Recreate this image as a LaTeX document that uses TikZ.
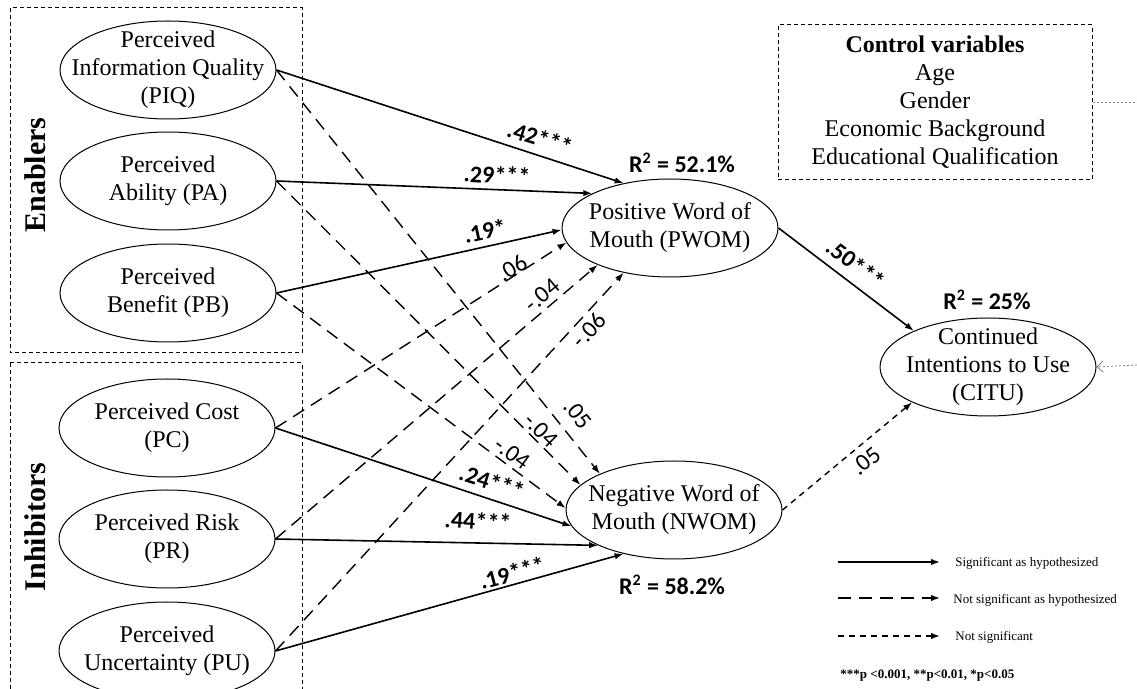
\documentclass[tikz,border=0pt]{standalone}
\usepackage{fontspec}
\setmainfont{Liberation Serif}
\newfontfamily\calibri{Carlito}
\usetikzlibrary{shapes.geometric, arrows.meta}

\begin{document}
\begin{tikzpicture}[x=0.5pt, y=-0.5pt,
    construct/.style={ellipse, draw, line width=0.5pt, minimum width=108pt, minimum height=49pt, inner sep=0pt},
    ctext/.style={align=center, inner sep=0pt, font=\fontsize{12}{14}\selectfont},
    sig/.style={line width=0.8pt, -{Latex[length=4.5pt, width=3.2pt]}},
    nsh/.style={line width=0.7pt, dash pattern=on 6.5pt off 4pt, -{Latex[length=4.5pt, width=3.2pt]}},
    ns/.style={line width=0.7pt, dash pattern=on 3pt off 2.5pt, -{Latex[length=4.5pt, width=3.2pt]}},
    coef/.style={inner sep=0pt, font=\calibri\bfseries\fontsize{12}{14}\selectfont},
    coefns/.style={inner sep=0pt, font=\calibri\fontsize{12}{14}\selectfont},
    groupbox/.style={line width=0.5pt, dash pattern=on 2pt off 1.5pt},
    grouplabel/.style={rotate=90, inner sep=0pt, font=\bfseries\fontsize{15}{18}\selectfont},
    keytext/.style={anchor=west, inner sep=0pt, font=\fontsize{6.5}{8}\selectfont},
    outside/.style={gray, line width=0.4pt, dash pattern=on 1pt off 1pt}]

  \path[use as bounding box] (0,0) rectangle (1137,689);
  \clip (0,0) rectangle (1137,689);

  % groups
  \draw[groupbox] (10,8) rectangle (302,353);
  \draw[groupbox] (10,363) rectangle (302,745);
  \node[grouplabel] (enab) at (35,175) {Enablers};
  \node[grouplabel] (inhib) at (35,527) {Inhibitors};

  % constructs
  \node[construct, label={[ctext]center:{Perceived\\Information Quality\\(PIQ)}}] (piq) at (168,70) {};
  \node[construct, label={[ctext]center:{Perceived\\Ability (PA)}}] (pa) at (168,181) {};
  \node[construct, label={[ctext]center:{Perceived\\Benefit (PB)}}] (pb) at (168,293) {};
  \node[construct, label={[ctext]center:{Perceived Cost\\(PC)}}] (pc) at (167,428) {};
  \node[construct, label={[ctext]center:{Perceived Risk\\(PR)}}] (pr) at (167,539) {};
  \node[construct, label={[ctext]center:{Perceived\\Uncertainty (PU)}}] (pu) at (167,651) {};
  \node[construct, label={[ctext]center:{Positive Word of\\Mouth (PWOM)}}] (pwom) at (670,228) {};
  \node[construct, label={[ctext]center:{Negative Word of\\Mouth (NWOM)}}] (nwom) at (674,510) {};
  \node[construct, label={[ctext]center:{Continued\\Intentions to Use\\(CITU)}}] (citu) at (988,367) {};

  \node[draw, groupbox, ctext, minimum width=157pt, minimum height=77.5pt] (ctrl) at (935,102.5)
    {\textbf{Control variables}\\Age\\Gender\\Economic Background\\Educational Qualification};

  % paths
  \draw[sig] (piq.east) -- (pwom.136);
  \draw[sig] (pa.east) -- (pwom.156);
  \draw[sig] (pb.east) -- (pwom.181);
  \draw[nsh] (pc.east) -- (pwom.188);
  \draw[nsh] (pr.east) -- (pwom.207);
  \draw[nsh] (pu.east) -- (pwom.224);
  \draw[nsh] (piq.east) -- (nwom.154);
  \draw[nsh] (pa.east) -- (nwom.165);
  \draw[nsh] (pb.east) -- (nwom.179);
  \draw[sig] (pc.east) -- (nwom.189);
  \draw[sig] (pr.east) -- (nwom.205);
  \draw[sig] (pu.east) -- (nwom.221);
  \draw[sig] (pwom.east) -- (citu.154);
  \draw[ns] (nwom.east) -- (citu.205);

  % controls from outside
  \coordinate (ctrlout) at (1137,102.5);
  \coordinate (cituin) at (1137,365);
  \draw[outside] (ctrl.east) -- (ctrlout);
  \draw[outside, -{Straight Barb[length=3pt, width=5.5pt]}] (cituin) -- (citu.east);

  % coefficients
  \node[coef, rotate=-17] (b1) at (540,138) {.42***};
  \node[coef, rotate=-3] (b2) at (497,175) {.29***};
  \node[coef, rotate=12] (b3) at (485,231) {.19*};
  \node[coefns, rotate=32] (b4) at (512,268) {.06};
  \node[coefns, rotate=40] (b5) at (542,295) {-.04};
  \node[coefns, rotate=47] (b6) at (589,330) {-.06};
  \node[coefns, rotate=-51] (b7) at (578,414) {.05};
  \node[coefns, rotate=-45] (b8) at (541,430) {-.04};
  \node[coefns, rotate=-36] (b9) at (512,453) {-.04};
  \node[coef, rotate=-18] (b10) at (492,482) {.24***};
  \node[coef, rotate=-4] (b11) at (478,521) {.44***};
  \node[coef, rotate=15] (b12) at (512,573) {.19***};
  \node[coef, rotate=-37] (b13) at (856,264) {.50***};
  \node[coefns, rotate=39] (b14) at (866,461) {.05};

  % explained variance
  \node[coef] (r1) at (682,163) {R\textsuperscript{2} = 52.1\%};
  \node[coef] (r2) at (672,585) {R\textsuperscript{2} = 58.2\%};
  \node[coef] (r3) at (987,300) {R\textsuperscript{2} = 25\%};

  % key
  \coordinate (k1s) at (838,562); \coordinate (k1e) at (940,562);
  \coordinate (k2s) at (838,598); \coordinate (k2e) at (940,598);
  \coordinate (k3s) at (838,636); \coordinate (k3e) at (940,636);
  \draw[sig] (k1s) -- (k1e);
  \draw[nsh] (k2s) -- (k2e);
  \draw[ns] (k3s) -- (k3e);
  \node[keytext] (k1) at (955,563) {Significant as hypothesized};
  \node[keytext] (k2) at (953,600) {Not significant as hypothesized};
  \node[keytext] (k3) at (955,637) {Not significant};
  \node[keytext, font=\bfseries\fontsize{6.5}{8}\selectfont] (pval) at (840,676) {***p <0.001, **p<0.01, *p<0.05};
\end{tikzpicture}
\end{document}
